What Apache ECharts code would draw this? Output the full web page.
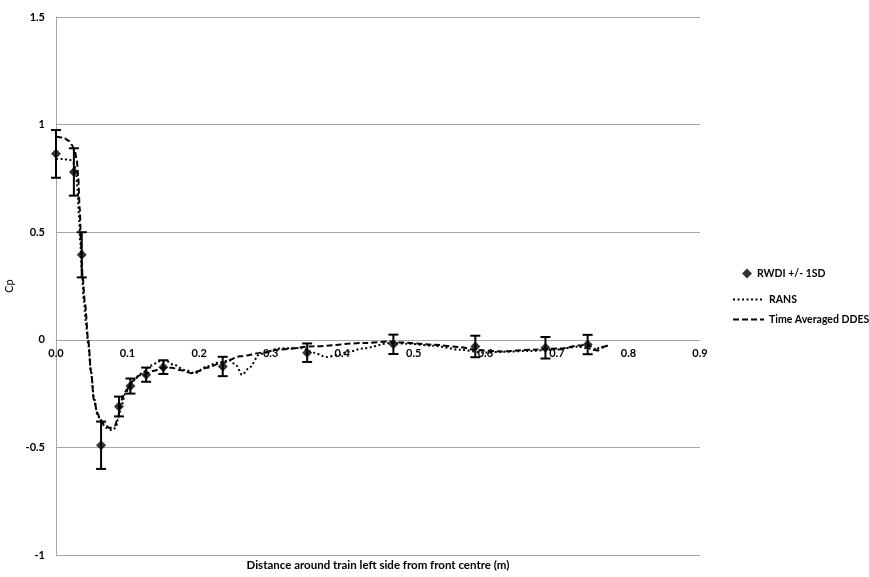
<!DOCTYPE html>
<html>
<head>
<meta charset="utf-8">
<script src="https://cdn.jsdelivr.net/npm/echarts@6/dist/echarts.min.js"></script>
<style>
  html, body { margin: 0; padding: 0; background: #ffffff; }
  #chart { width: 869px; height: 577px; }
</style>
</head>
<body>
<div id="chart"></div>
<script>
// Wind-tunnel measurements (mean Cp with +/- 1 standard deviation)
const rwdiX  = [0.000, 0.025, 0.036, 0.063, 0.088, 0.104, 0.126, 0.150, 0.233, 0.351, 0.4715, 0.586, 0.684, 0.743];
const rwdiCp = [0.864, 0.780, 0.395, -0.490, -0.310, -0.215, -0.162, -0.127, -0.124, -0.060, -0.021, -0.031, -0.037, -0.022];
const rwdiSd = [0.111, 0.110, 0.105, 0.110, 0.046, 0.035, 0.033, 0.032, 0.045, 0.043, 0.045, 0.050, 0.050, 0.045];

// Steady RANS prediction
const ransX  = [0, 0.010, 0.020, 0.025, 0.028, 0.030, 0.032, 0.034, 0.036, 0.039, 0.042, 0.045, 0.049, 0.053, 0.058, 0.064, 0.071, 0.078, 0.083, 0.087, 0.091, 0.097, 0.105, 0.114, 0.122, 0.132, 0.145, 0.155, 0.164, 0.180, 0.194, 0.210, 0.226, 0.243, 0.252, 0.260, 0.270, 0.285, 0.313, 0.343, 0.360, 0.378, 0.392, 0.410, 0.429, 0.467, 0.490, 0.528, 0.565, 0.597, 0.620, 0.660, 0.700, 0.730, 0.745, 0.752, 0.762, 0.774];
const ransCp = [0.84, 0.84, 0.835, 0.82, 0.78, 0.70, 0.58, 0.45, 0.32, 0.18, 0.07, -0.02, -0.15, -0.27, -0.35, -0.39, -0.41, -0.42, -0.41, -0.37, -0.31, -0.25, -0.20, -0.17, -0.15, -0.12, -0.10, -0.10, -0.115, -0.14, -0.155, -0.125, -0.107, -0.095, -0.12, -0.163, -0.13, -0.065, -0.04, -0.038, -0.06, -0.08, -0.072, -0.055, -0.04, -0.015, -0.018, -0.028, -0.046, -0.059, -0.056, -0.052, -0.045, -0.032, -0.04, -0.047, -0.034, -0.022];

// Time-averaged DDES prediction
const ddesX  = [0, 0.010, 0.018, 0.022, 0.026, 0.029, 0.031, 0.033, 0.035, 0.037, 0.0405, 0.045, 0.049, 0.053, 0.058, 0.0615, 0.068, 0.0755, 0.082, 0.087, 0.0895, 0.094, 0.099, 0.108, 0.117, 0.122, 0.135, 0.150, 0.162, 0.173, 0.190, 0.200, 0.210, 0.232, 0.257, 0.290, 0.313, 0.360, 0.430, 0.467, 0.481, 0.528, 0.565, 0.588, 0.621, 0.667, 0.705, 0.733, 0.742, 0.750, 0.756, 0.768, 0.772];
const ddesCp = [0.945, 0.94, 0.925, 0.906, 0.88, 0.84, 0.76, 0.62, 0.45, 0.30, 0.17, 0.0, -0.15, -0.28, -0.34, -0.37, -0.395, -0.41, -0.40, -0.36, -0.30, -0.26, -0.23, -0.19, -0.165, -0.165, -0.145, -0.13, -0.13, -0.14, -0.155, -0.145, -0.13, -0.108, -0.077, -0.059, -0.045, -0.03, -0.015, -0.008, -0.012, -0.023, -0.034, -0.048, -0.054, -0.046, -0.04, -0.026, -0.02, -0.035, -0.05, -0.03, -0.018];

const xMin = 0, xMax = 0.9, xStep = 0.1;
const yMin = -1, yMax = 1.5, yStep = 0.5;

const labelFont = 'Lato, "Open Sans", sans-serif';
const gridGrey = '#a6a6a6';

const pair = (xs, ys) => xs.map((x, i) => [x, ys[i]]);
const rwdiData = pair(rwdiX, rwdiCp);
const errData = rwdiX.map((x, i) => [x, rwdiCp[i], rwdiSd[i]]);

const legendText = { color: '#000', fontFamily: labelFont, fontSize: 10.5, fontWeight: 'bold' };

// Plot box inside the 869x577 canvas
const gridBox = { left: 56, right: 169, top: 17, bottom: 22 };
const plotHeight = 577 - gridBox.top - gridBox.bottom;
const plotCentreX = gridBox.left + (869 - gridBox.left - gridBox.right) / 2;
// Lift the horizontal axis from the bottom edge up to Cp = 0
const zeroLift = (0 - yMin) / (yMax - yMin) * plotHeight;

const chart = echarts.init(document.getElementById('chart'), null, { renderer: 'canvas' });

chart.setOption({
  animation: false,
  backgroundColor: '#ffffff',
  grid: Object.assign({ containLabel: false, outerBoundsMode: 'none' }, gridBox),
  xAxis: {
    type: 'value',
    position: 'bottom',
    offset: -zeroLift,
    min: xMin, max: xMax, interval: xStep,
    axisLine: { show: true, onZero: false, lineStyle: { color: gridGrey, width: 1 } },
    axisTick: { show: false },
    splitLine: { show: false },
    axisLabel: {
      color: '#000', fontFamily: labelFont, fontSize: 11, fontWeight: 'bold', margin: 8,
      formatter: v => v.toFixed(1)
    }
  },
  yAxis: {
    type: 'value',
    min: yMin, max: yMax, interval: yStep,
    name: 'Cp',
    nameLocation: 'middle',
    nameGap: 40,
    nameRotate: 90,
    nameTextStyle: { color: '#000', fontFamily: labelFont, fontSize: 11 },
    axisLine: { show: true, lineStyle: { color: gridGrey, width: 1 } },
    axisTick: { show: false },
    splitLine: { show: true, lineStyle: { color: gridGrey, width: 1 } },
    axisLabel: { color: '#000', fontFamily: labelFont, fontSize: 11, fontWeight: 'bold', margin: 11 }
  },
  legend: [
    {
      data: [{ name: 'RWDI +/- 1SD', icon: 'diamond' }], left: 737, top: 263, itemWidth: 10, itemHeight: 10,
      textStyle: legendText
    },
    {
      data: ['RANS'], left: 727, top: 289, itemWidth: 31, itemHeight: 10,
      itemStyle: { opacity: 0 },
      textStyle: legendText
    },
    {
      data: ['Time Averaged DDES'], left: 727, top: 309, itemWidth: 31, itemHeight: 10,
      itemStyle: { opacity: 0 },
      textStyle: legendText
    }
  ],
  graphic: [{
    type: 'text',
    x: plotCentreX, y: 559,
    style: {
      text: 'Distance around train left side from front centre (m)',
      fill: '#000', font: 'bold 11.5px ' + labelFont, align: 'center', verticalAlign: 'top'
    }
  }],
  series: [
    {
      name: 'RANS',
      type: 'line',
      data: pair(ransX, ransCp),
      showSymbol: false, symbol: 'none',
      smooth: 0.3, smoothMonotone: 'x',
      lineStyle: { color: '#000', width: 2, type: [2, 2.5] },
      itemStyle: { color: '#000' },
      z: 3
    },
    {
      name: 'Time Averaged DDES',
      type: 'line',
      data: pair(ddesX, ddesCp),
      showSymbol: false, symbol: 'none',
      smooth: 0.3, smoothMonotone: 'x',
      lineStyle: { color: '#000', width: 2, type: [6, 3] },
      itemStyle: { color: '#000' },
      z: 4
    },
    {
      name: 'RWDI error',
      type: 'custom',
      data: errData,
      encode: { x: 0, y: 1 },
      z: 5,
      renderItem: (params, api) => {
        const x = api.value(0), y = api.value(1), sd = api.value(2);
        const top = api.coord([x, y + sd]);
        const bot = api.coord([x, y - sd]);
        const hw = 5;
        const style = { stroke: '#000', lineWidth: 2 };
        return {
          type: 'group',
          children: [
            { type: 'line', shape: { x1: top[0], y1: top[1], x2: bot[0], y2: bot[1] }, style },
            { type: 'line', shape: { x1: top[0] - hw, y1: top[1], x2: top[0] + hw, y2: top[1] }, style },
            { type: 'line', shape: { x1: bot[0] - hw, y1: bot[1], x2: bot[0] + hw, y2: bot[1] }, style }
          ]
        };
      }
    },
    {
      name: 'RWDI +/- 1SD',
      type: 'scatter',
      data: rwdiData,
      symbol: 'diamond',
      symbolSize: 10,
      itemStyle: { color: '#000' },
      z: 6
    }
  ]
});
</script>
</body>
</html>
